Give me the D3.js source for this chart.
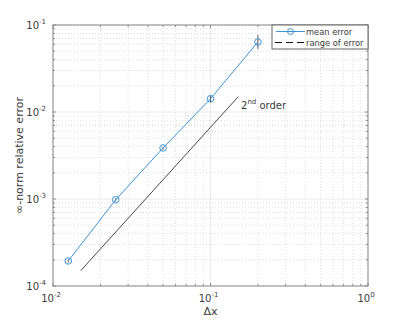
<!DOCTYPE html>
<html><head><meta charset="utf-8">
<script src="https://cdn.jsdelivr.net/npm/d3@7"></script>
<style>body{margin:0;background:#fff}svg{font-family:"DejaVu Sans",sans-serif}</style>
</head><body><svg id="c" width="407" height="322"></svg>
<script>
const dx = [0.0125, 0.025, 0.05, 0.1, 0.2];
const meanErr = [1.94e-4, 9.8e-4, 3.86e-3, 1.42e-2, 6.38e-2];
const errLow = [1.85e-4, 9.4e-4, 3.7e-3, 1.30e-2, 5.3e-2];
const errHigh = [2.03e-4, 1.02e-3, 4.0e-3, 1.53e-2, 7.67e-2];
const refX = [0.015, 0.15];
const refY = [1.5e-4, 1.5e-2];
const xTickExp = [-2, -1, 0];
const yTickExp = [-4, -3, -2, -1];
const legendLabels = ["mean error", "range of error"];

const svg = d3.select("#c");
const L = 53, R = 368, T = 25, B = 286;
const x = d3.scaleLog().domain([1e-2, 1]).range([L, R]);
const y = d3.scaleLog().domain([1e-4, 1e-1]).range([B, T]);
const axisCol = "#8a8a8a", txtCol = "#3a3a3a", blue = "#3d93d3";

const xMinor = [], yMinor = [];
for (let e = -2; e < 0; e++) for (let k = 2; k <= 9; k++) xMinor.push(k * Math.pow(10, e));
for (let e = -4; e < -1; e++) for (let k = 2; k <= 9; k++) yMinor.push(k * Math.pow(10, e));
const xMajor = xTickExp.map(e => Math.pow(10, e));
const yMajor = yTickExp.map(e => Math.pow(10, e));

const g = svg.append("g");
g.selectAll(".gxm").data(xMinor).enter().append("line")
  .attr("x1", d => x(d)).attr("x2", d => x(d)).attr("y1", T).attr("y2", B)
  .attr("stroke", "#cfcfcf").attr("stroke-width", 0.7).attr("stroke-dasharray", "1,2");
g.selectAll(".gym").data(yMinor).enter().append("line")
  .attr("y1", d => y(d)).attr("y2", d => y(d)).attr("x1", L).attr("x2", R)
  .attr("stroke", "#cfcfcf").attr("stroke-width", 0.7).attr("stroke-dasharray", "1,2");
g.selectAll(".gxM").data(xMajor).enter().append("line")
  .attr("x1", d => x(d)).attr("x2", d => x(d)).attr("y1", T).attr("y2", B)
  .attr("stroke", "#e4e4e4").attr("stroke-width", 0.8);
g.selectAll(".gyM").data(yMajor).enter().append("line")
  .attr("y1", d => y(d)).attr("y2", d => y(d)).attr("x1", L).attr("x2", R)
  .attr("stroke", "#e4e4e4").attr("stroke-width", 0.8);

g.append("rect").attr("x", L).attr("y", T).attr("width", R - L).attr("height", B - T)
  .attr("fill", "none").attr("stroke", axisCol).attr("stroke-width", 1);

function xt(vals, len) {
  vals.forEach(v => {
    g.append("line").attr("x1", x(v)).attr("x2", x(v)).attr("y1", B).attr("y2", B - len).attr("stroke", axisCol);
    g.append("line").attr("x1", x(v)).attr("x2", x(v)).attr("y1", T).attr("y2", T + len).attr("stroke", axisCol);
  });
}
function yt(vals, len) {
  vals.forEach(v => {
    g.append("line").attr("y1", y(v)).attr("y2", y(v)).attr("x1", L).attr("x2", L + len).attr("stroke", axisCol);
    g.append("line").attr("y1", y(v)).attr("y2", y(v)).attr("x1", R).attr("x2", R - len).attr("stroke", axisCol);
  });
}
xt(xMajor, 3); xt(xMinor, 2); yt(yMajor, 3); yt(yMinor, 2);

xTickExp.forEach(e => {
  const t = svg.append("text").attr("x", x(Math.pow(10, e)) - 2).attr("y", B + 16)
    .attr("text-anchor", "middle").attr("fill", txtCol).attr("font-size", 10);
  t.append("tspan").text("10");
  t.append("tspan").attr("dy", -5).attr("font-size", 7).text(String(e));
});
yTickExp.forEach(e => {
  const t = svg.append("text").attr("x", L - 7).attr("y", y(Math.pow(10, e)) + 4)
    .attr("text-anchor", "end").attr("fill", txtCol).attr("font-size", 10);
  t.append("tspan").text("10");
  t.append("tspan").attr("dy", -5).attr("font-size", 7).text(String(e));
});

svg.append("text").attr("x", x(0.1)).attr("y", 315).attr("text-anchor", "middle")
  .attr("fill", txtCol).attr("font-size", 11).text("Δx");
svg.append("text").attr("transform", `translate(23,${(T + B) / 2}) rotate(-90)`)
  .attr("text-anchor", "middle").attr("fill", txtCol).attr("font-size", 11).text("∞-norm relative error");

const line = d3.line().x(d => x(d[0])).y(d => y(d[1]));
svg.append("path").datum(refX.map((v, i) => [v, refY[i]])).attr("d", line)
  .attr("fill", "none").attr("stroke", "#333").attr("stroke-width", 0.9);
const ot = svg.append("text").attr("x", 241).attr("y", 109).attr("fill", txtCol).attr("font-size", 10);
ot.append("tspan").text("2");
ot.append("tspan").attr("dy", -5).attr("font-size", 7).text("nd");
ot.append("tspan").attr("dy", 5).text(" order");

svg.selectAll(".eb").data(dx).enter().append("line")
  .attr("x1", d => x(d)).attr("x2", d => x(d))
  .attr("y1", (d, i) => y(errLow[i])).attr("y2", (d, i) => y(errHigh[i]))
  .attr("stroke", "#333").attr("stroke-width", 0.8);

svg.append("path").datum(dx.map((v, i) => [v, meanErr[i]])).attr("d", line)
  .attr("fill", "none").attr("stroke", blue).attr("stroke-width", 1);
svg.selectAll(".pt").data(dx).enter().append("circle")
  .attr("cx", d => x(d)).attr("cy", (d, i) => y(meanErr[i])).attr("r", 3.3)
  .attr("fill", "none").attr("stroke", blue).attr("stroke-width", 1);

const lg = svg.append("g");
lg.append("rect").attr("x", 272).attr("y", T).attr("width", R - 272).attr("height", 24)
  .attr("fill", "#fff").attr("stroke", "#555").attr("stroke-width", 0.9);
lg.append("line").attr("x1", 276).attr("x2", 305).attr("y1", 31.5).attr("y2", 31.5).attr("stroke", blue).attr("stroke-width", 1);
lg.append("circle").attr("cx", 290.5).attr("cy", 31.5).attr("r", 3).attr("fill", "none").attr("stroke", blue);
lg.append("line").attr("x1", 275).attr("x2", 304).attr("y1", 42.5).attr("y2", 42.5).attr("stroke", "#111")
  .attr("stroke-width", 1).attr("stroke-dasharray", "7,4");
legendLabels.forEach((s, i) => {
  lg.append("text").attr("x", 306).attr("y", 34.5 + i * 11).attr("fill", txtCol).attr("font-size", 8.3).text(s);
});
</script></body></html>
